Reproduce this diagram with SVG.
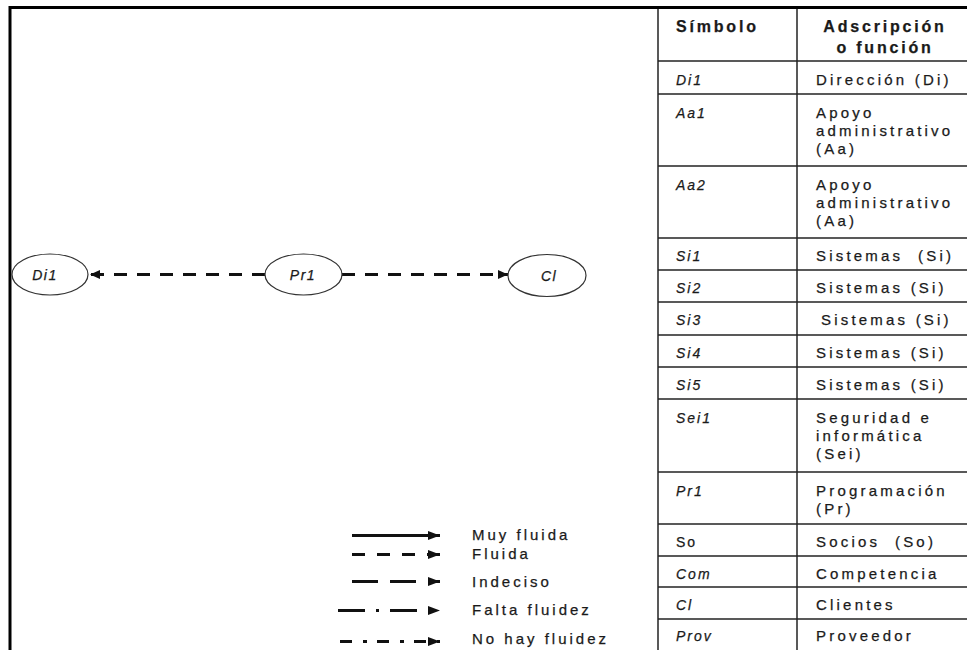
<svg xmlns="http://www.w3.org/2000/svg" width="967" height="650" viewBox="0 0 967 650">
<style>
.frame{fill:none;stroke:#000;stroke-width:3}
.grid{stroke:#222;stroke-width:1.5}
.node{fill:#fff;stroke:#333;stroke-width:1.2}
.t{font-family:"Liberation Sans",Arial,sans-serif;fill:#1a1a1a;stroke:#1a1a1a;stroke-width:0.25}
.nlabel{font-size:14px;font-style:italic;letter-spacing:1.5px;text-anchor:middle}
.edge{fill:none;stroke:#111;stroke-width:3;stroke-dasharray:13 10}
.hdr{font-size:16px;font-weight:bold;letter-spacing:2.8px}
.sym{font-size:14px;font-style:italic;letter-spacing:2px}
.sym2{font-size:14px;letter-spacing:2px}
.desc{font-size:15px;letter-spacing:3.2px}
.leg{fill:none;stroke:#111;stroke-width:3}
.ltxt{font-size:15px;letter-spacing:3px}
</style>
<defs>
<marker id="ah" markerUnits="userSpaceOnUse" markerWidth="11" markerHeight="9" refX="10" refY="4.5" orient="auto">
<path d="M0,0 L10,4.5 L0,9 z" fill="#111"/>
</marker>
<marker id="lah" markerUnits="userSpaceOnUse" markerWidth="13" markerHeight="10" refX="12" refY="4.5" orient="auto">
<path d="M0,0 L12,4.5 L0,9 z" fill="#111"/>
</marker>
</defs>
<rect width="967" height="650" fill="#fff"/>
<path class="frame" d="M10,650 V7.5 H967"/>

<g id="connectors">
<path class="edge" d="M265,274.5 H90" marker-end="url(#ah)"/>
<path class="edge" d="M342,274.5 H508" marker-end="url(#ah)"/>
</g>

<g id="node-Di1">
<ellipse class="node" cx="50" cy="274.5" rx="38" ry="20.5"/>
<text class="t nlabel" x="45" y="280">Di1</text>
</g>
<g id="node-Pr1">
<ellipse class="node" cx="303.5" cy="274.5" rx="38.5" ry="20.5"/>
<text class="t nlabel" x="303" y="280">Pr1</text>
</g>
<g id="node-Cl">
<ellipse class="node" cx="547" cy="275.5" rx="39" ry="21"/>
<text class="t nlabel" x="549" y="281">Cl</text>
</g>

<g id="table">
<line class="grid" x1="658" y1="9" x2="658" y2="650"/>
<line class="grid" x1="797" y1="9" x2="797" y2="650"/>
<line class="grid" x1="658" y1="61" x2="967" y2="61"/>
<line class="grid" x1="658" y1="94" x2="967" y2="94"/>
<line class="grid" x1="658" y1="166" x2="967" y2="166"/>
<line class="grid" x1="658" y1="238" x2="967" y2="238"/>
<line class="grid" x1="658" y1="270" x2="967" y2="270"/>
<line class="grid" x1="658" y1="302" x2="967" y2="302"/>
<line class="grid" x1="658" y1="335" x2="967" y2="335"/>
<line class="grid" x1="658" y1="367" x2="967" y2="367"/>
<line class="grid" x1="658" y1="399" x2="967" y2="399"/>
<line class="grid" x1="658" y1="472" x2="967" y2="472"/>
<line class="grid" x1="658" y1="524" x2="967" y2="524"/>
<line class="grid" x1="658" y1="556" x2="967" y2="556"/>
<line class="grid" x1="658" y1="587" x2="967" y2="587"/>
<line class="grid" x1="658" y1="619" x2="967" y2="619"/>

<text class="t hdr" x="676" y="32">Símbolo</text>
<text class="t hdr" x="885" y="32" text-anchor="middle">Adscripción</text>
<text class="t hdr" x="885" y="53" text-anchor="middle">o función</text>

<text class="t sym" x="676" y="85">Di1</text>
<text class="t desc" x="816" y="85">Dirección (Di)</text>

<text class="t sym" x="676" y="118">Aa1</text>
<text class="t desc" x="816" y="118">Apoyo</text>
<text class="t desc" x="816" y="136">administrativo</text>
<text class="t desc" x="816" y="154">(Aa)</text>

<text class="t sym" x="676" y="190">Aa2</text>
<text class="t desc" x="816" y="190">Apoyo</text>
<text class="t desc" x="816" y="208">administrativo</text>
<text class="t desc" x="816" y="226">(Aa)</text>

<text class="t sym" x="676" y="261">Si1</text>
<text class="t desc" x="816" y="261">Sistemas&#160; (Si)</text>
<text class="t sym" x="676" y="293">Si2</text>
<text class="t desc" x="816" y="293">Sistemas (Si)</text>
<text class="t sym" x="676" y="325">Si3</text>
<text class="t desc" x="821" y="325">Sistemas (Si)</text>
<text class="t sym" x="676" y="358">Si4</text>
<text class="t desc" x="816" y="358">Sistemas (Si)</text>
<text class="t sym" x="676" y="390">Si5</text>
<text class="t desc" x="816" y="390">Sistemas (Si)</text>

<text class="t sym" x="676" y="423">Sei1</text>
<text class="t desc" x="816" y="423">Seguridad e</text>
<text class="t desc" x="816" y="441">informática</text>
<text class="t desc" x="816" y="459">(Sei)</text>

<text class="t sym" x="676" y="496">Pr1</text>
<text class="t desc" x="816" y="496">Programación</text>
<text class="t desc" x="816" y="514">(Pr)</text>

<text class="t sym2" x="676" y="547">So</text>
<text class="t desc" x="816" y="547">Socios&#160; (So)</text>
<text class="t sym" x="676" y="579">Com</text>
<text class="t desc" x="816" y="579">Competencia</text>
<text class="t sym" x="676" y="610">Cl</text>
<text class="t desc" x="816" y="610">Clientes</text>
<text class="t sym" x="676" y="641">Prov</text>
<text class="t desc" x="816" y="641">Proveedor</text>
</g>

<g id="legend">
<path class="leg" d="M352,535.5 H440" marker-end="url(#lah)"/>
<path class="leg" d="M352,554.5 H440" stroke-dasharray="13 12" marker-end="url(#lah)"/>
<path class="leg" d="M352,581.5 H440" stroke-dasharray="26 12" marker-end="url(#lah)"/>
<path class="leg" d="M338,610.5 H440" stroke-dasharray="27 11 3 11" marker-end="url(#lah)"/>
<path class="leg" d="M340,641.5 H440" stroke-dasharray="12 11 4 10" marker-end="url(#lah)"/>
<text class="t ltxt" x="472" y="540">Muy fluida</text>
<text class="t ltxt" x="472" y="559">Fluida</text>
<text class="t ltxt" x="472" y="587">Indeciso</text>
<text class="t ltxt" x="472" y="615">Falta fluidez</text>
<text class="t ltxt" x="472" y="644">No hay fluidez</text>
</g>
</svg>
